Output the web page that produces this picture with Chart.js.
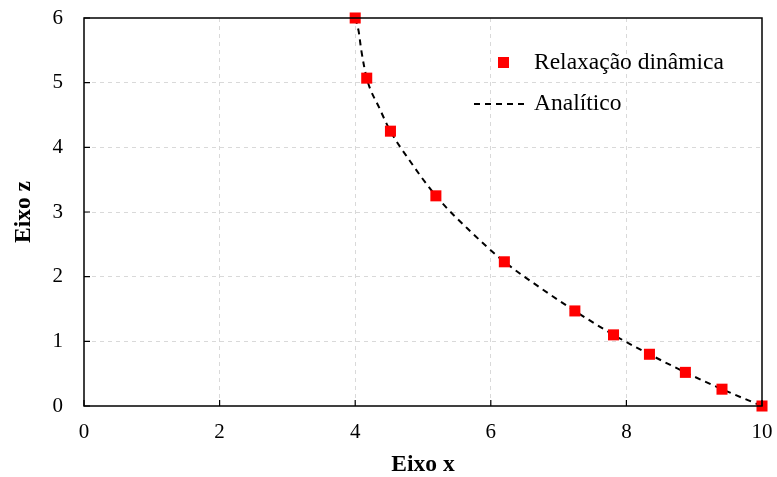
<!DOCTYPE html>
<html>
<head>
<meta charset="utf-8">
<script src="https://cdn.jsdelivr.net/npm/chart.js@4"></script>
<style>
  html, body { margin: 0; padding: 0; background: #fff; }
  #wrap { width: 777px; height: 477px; }
</style>
</head>
<body>
<div id="wrap"><canvas id="chart"></canvas></div>
<script>
// === data ===
const relaxX = [4.0, 4.17, 4.52, 5.19, 6.2, 7.24, 7.81, 8.34, 8.87, 9.41, 10.0];
const relaxZ = [6.0, 5.07, 4.25, 3.25, 2.23, 1.47, 1.1, 0.8, 0.52, 0.26, 0.0];

const analitX = [4.0, 4.05, 4.09, 4.17, 4.36, 4.52, 4.8, 5.19, 5.7, 6.2, 6.7, 7.24, 7.81, 8.34, 8.87, 9.41, 10.0];
const analitZ = [6.0, 5.8, 5.5, 5.07, 4.6, 4.25, 3.8, 3.25, 2.7, 2.23, 1.85, 1.47, 1.1, 0.8, 0.52, 0.26, 0.0];

const xTicks = [0, 2, 4, 6, 8, 10];
const zTicks = [0, 1, 2, 3, 4, 5, 6];

const serif = "'Liberation Serif', 'Times New Roman', serif";

const chartProps = {
    pointColor: "#ff0000",
    lineColor: "#000",
    gridColor: "#d9d9d9",
    axisColor: "#000",
    tickFontSize: 21,
    labelFontSize: 23.5
};

// box round the plot, inward ticks and the in-plot legend
const framePlugin = {
    id: "frame",
    afterDraw(chart) {
        const { ctx, chartArea: a, scales } = chart;
        ctx.save();
        ctx.strokeStyle = chartProps.axisColor;
        ctx.lineWidth = 1.5;
        ctx.setLineDash([]);
        ctx.strokeRect(a.left, a.top, a.right - a.left, a.bottom - a.top);

        // inward ticks
        ctx.lineWidth = 1.2;
        ctx.beginPath();
        xTicks.forEach(v => {
            const px = scales.x.getPixelForValue(v);
            ctx.moveTo(px, a.bottom);
            ctx.lineTo(px, a.bottom - 6);
        });
        zTicks.forEach(v => {
            const py = scales.y.getPixelForValue(v);
            ctx.moveTo(a.left, py);
            ctx.lineTo(a.left + 6, py);
        });
        ctx.stroke();

        // legend
        const labels = chart.data.datasets.map(d => d.label);
        ctx.font = chartProps.labelFontSize + "px " + serif;
        ctx.textBaseline = "middle";
        ctx.fillStyle = chartProps.pointColor;
        ctx.fillRect(498, 57, 11, 11);
        ctx.fillStyle = "#000";
        ctx.fillText(labels[0], 534, 63);

        ctx.strokeStyle = chartProps.lineColor;
        ctx.lineWidth = 2;
        ctx.setLineDash([6, 5]);
        ctx.beginPath();
        ctx.moveTo(474, 104);
        ctx.lineTo(526, 104);
        ctx.stroke();
        ctx.setLineDash([]);
        ctx.fillText(labels[1], 534, 104);
        ctx.restore();
    }
};

new Chart(document.getElementById("chart"), {
    type: "scatter",
    data: {
        datasets: [
            {
                label: "Relaxação dinâmica",
                data: relaxX.map((x, i) => ({ x: x, y: relaxZ[i] })),
                backgroundColor: chartProps.pointColor,
                borderColor: chartProps.pointColor,
                pointStyle: "rect",
                pointRadius: 7.8,
                borderWidth: 0,
                showLine: false,
                clip: false,
                order: 0
            },
            {
                label: "Analítico",
                data: analitX.map((x, i) => ({ x: x, y: analitZ[i] })),
                showLine: true,
                borderColor: chartProps.lineColor,
                borderWidth: 2,
                borderDash: [6, 5],
                pointRadius: 0,
                cubicInterpolationMode: "monotone",
                fill: false,
                clip: false,
                order: 1
            }
        ]
    },
    options: {
        responsive: true,
        maintainAspectRatio: false,
        animation: false,
        layout: { autoPadding: false, padding: { top: 18, right: 15, left: 0, bottom: 0 } },
        plugins: {
            legend: { display: false },
            tooltip: { enabled: false }
        },
        scales: {
            x: {
                type: "linear",
                min: 0,
                max: 10,
                afterBuildTicks: s => { s.ticks = xTicks.map(v => ({ value: v })); },
                afterFit: s => { s.height = 71; s.paddingLeft = 0; s.paddingRight = 0; },
                ticks: {
                    font: { family: serif, size: chartProps.tickFontSize },
                    color: "#000",
                    padding: 14,
                    maxRotation: 0
                },
                grid: {
                    color: ctx => (ctx.tick.value === 0 || ctx.tick.value === 10) ? "rgba(0,0,0,0)" : chartProps.gridColor,
                    drawTicks: false,
                    lineWidth: 1
                },
                border: { display: false, dash: [4, 4] },
                title: {
                    display: true,
                    text: "Eixo x",
                    font: { family: serif, size: chartProps.labelFontSize, weight: "bold", lineHeight: 1 },
                    color: "#000",
                    padding: { top: 0, bottom: 0 }
                }
            },
            y: {
                type: "linear",
                min: 0,
                max: 6,
                afterBuildTicks: s => { s.ticks = zTicks.map(v => ({ value: v })); },
                afterFit: s => { s.width = 84; s.paddingTop = 0; s.paddingBottom = 0; },
                ticks: {
                    font: { family: serif, size: chartProps.tickFontSize },
                    color: "#000",
                    padding: 21
                },
                grid: {
                    color: ctx => (ctx.tick.value === 0 || ctx.tick.value === 6) ? "rgba(0,0,0,0)" : chartProps.gridColor,
                    drawTicks: false,
                    lineWidth: 1
                },
                border: { display: false, dash: [4, 4] },
                title: {
                    display: true,
                    text: "Eixo z",
                    font: { family: serif, size: chartProps.labelFontSize, weight: "bold", lineHeight: 1 },
                    color: "#000",
                    padding: { top: 12, bottom: 0 }
                }
            }
        }
    },
    plugins: [framePlugin]
});
</script>
</body>
</html>
